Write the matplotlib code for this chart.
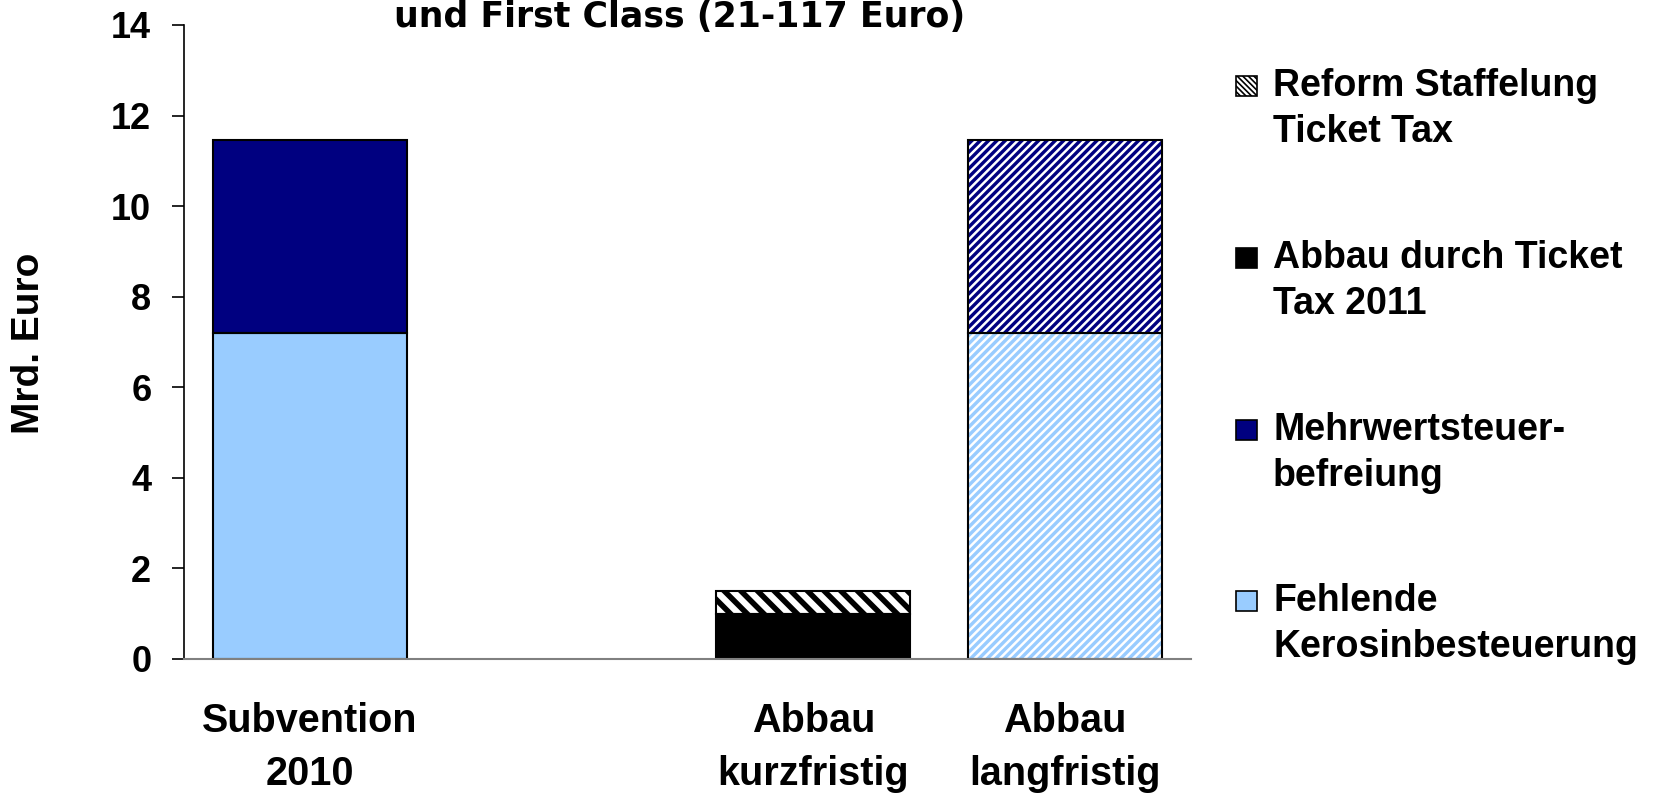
import numpy as np
import matplotlib
matplotlib.use("Agg")
import matplotlib.pyplot as plt
from matplotlib.patches import Rectangle

# ---------------- data ----------------
categories = ["Subvention\n2010", "", "Abbau\nkurzfristig", "Abbau\nlangfristig"]
kerosin = [7.2, 0.0, 0.0, 7.2]        # Fehlende Kerosinbesteuerung
mwst = [4.25, 0.0, 0.0, 4.25]         # Mehrwertsteuerbefreiung
ticket2011 = [0.0, 0.0, 1.0, 0.0]     # Abbau durch Ticket Tax 2011
reform = [0.0, 0.0, 0.5, 0.0]         # Reform Staffelung Ticket Tax
yticks = [0, 2, 4, 6, 8, 10, 12, 14]
title_text = "und First Class (21-117 Euro)"
ylabel_text = "Mrd. Euro"
legend_labels = ["Reform Staffelung\nTicket Tax", "Abbau durch Ticket\nTax 2011",
                 "Mehrwertsteuer-\nbefreiung", "Fehlende\nKerosinbesteuerung"]

LIGHT = "#99CCFF"
NAVY = "#000080"
HATCHED_CAT = 3   # langfristig bars are hatched

plt.rcParams['font.family'] = ['Liberation Sans', 'DejaVu Sans']
plt.rcParams['font.weight'] = 'bold'

W, H = 1653, 794
fig = plt.figure(figsize=(W / 100, H / 100), dpi=100)
ax = fig.add_axes([184 / W, 1 - 659 / H, (1191 - 184) / W, (659 - 25) / H])

x = np.arange(len(categories))
width = 0.77


def draw_series(vals, bottoms, face, hatch_face, hatch_col, hatch_str, hatch_lw,
                all_hatched=False):
    vals = np.asarray(vals, float)
    bottoms = np.asarray(bottoms, float)
    idx = np.where(vals > 0)[0]
    for i in idx:
        hatched = all_hatched or i == HATCHED_CAT
        if hatched and hatch_str:
            with plt.rc_context({'hatch.linewidth': hatch_lw}):
                b = ax.bar(x[i], vals[i], width, bottom=bottoms[i], color=hatch_face,
                           edgecolor=hatch_col, hatch=hatch_str, linewidth=0, zorder=2)
            for p in b.patches:
                if hasattr(p, "set_hatch_linewidth"):
                    p.set_hatch_linewidth(hatch_lw)
        else:
            ax.bar(x[i], vals[i], width, bottom=bottoms[i], color=face,
                   linewidth=0, zorder=2)
        ax.bar(x[i], vals[i], width, bottom=bottoms[i], fill=False,
               edgecolor='black', linewidth=1.5, zorder=3)


base = np.zeros(len(categories))
draw_series(kerosin, base, LIGHT, LIGHT, 'white', '////', 1.8)
base = base + np.asarray(kerosin)
draw_series(mwst, base, NAVY, NAVY, 'white', '////', 1.8)
base = base + np.asarray(mwst)
draw_series(ticket2011, base, 'black', 'black', 'black', None, 1.0)
base = base + np.asarray(ticket2011)
draw_series(reform, base, 'white', 'white', 'black', '\\\\', 4.0, all_hatched=True)

ax.set_xlim(-0.5, len(categories) - 0.5)
ax.set_ylim(0, 14)
ax.set_yticks(yticks)
ax.set_yticklabels([str(v) for v in yticks], fontsize=26, fontweight='bold')
ax.set_xticks(x)
ax.set_xticklabels(categories, fontsize=28.5, fontweight='bold', linespacing=1.5)
ax.tick_params(axis='x', length=0, pad=31)
ax.tick_params(axis='y', direction='out', length=8.5, width=1.2, pad=15)

for s in ['top', 'right']:
    ax.spines[s].set_visible(False)
ax.spines['left'].set_color('black')
ax.spines['left'].set_linewidth(1.2)
ax.spines['bottom'].set_color('#808080')
ax.spines['bottom'].set_linewidth(1.5)
ax.spines['bottom'].set_zorder(4)

fig.text(29 / W, 1 - 343 / H, ylabel_text, rotation=90, ha='center', va='center',
         fontsize=28, fontweight='bold')

fig.text(680 / W, 1 - 27 / H, title_text, ha='center', va='baseline',
         fontsize=25, fontweight='bold', family='DejaVu Sans')

# ---------------- legend (manual placement) ----------------
leg_face = ['white', 'black', NAVY, LIGHT]
leg_hatch = ['\\' * 6, None, None, None]
first_line_y = [86, 258, 430, 601]
line_step = 46
for lab, fc, ht, y0 in zip(legend_labels, leg_face, leg_hatch, first_line_y):
    with plt.rc_context({'hatch.linewidth': 1.2}):
        r = Rectangle((1236 / W, 1 - (y0 + 10) / H), 21 / W, 20 / H,
                      transform=fig.transFigure, facecolor=fc, edgecolor='black',
                      hatch=ht, linewidth=1.2)
    fig.patches.append(r)
    for k, line in enumerate(lab.split("\n")):
        fig.text(1273 / W, 1 - (y0 + k * line_step) / H, line, ha='left',
                 va='center', fontsize=27, fontweight='bold')

fig.savefig("out.png", dpi=100)
